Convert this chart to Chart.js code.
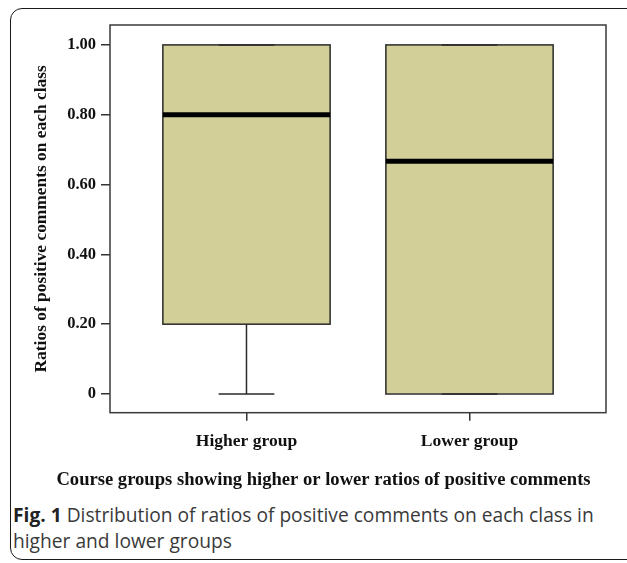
<!DOCTYPE html>
<html>
<head>
<meta charset="utf-8">
<title>Ratios of positive comments by course group</title>
<script src="https://cdn.jsdelivr.net/npm/chart.js@4/dist/chart.umd.min.js"></script>
<style>
  html, body { margin: 0; padding: 0; background: #fff; overflow: hidden; }
  body { width: 627px; height: 563px; position: relative; }
  .frame {
    position: absolute; left: 10px; top: 8px; width: 650px; height: 552px;
    box-sizing: border-box; border: 1.5px solid #1a1a1a; border-radius: 12px;
  }
  .plot { position: absolute; left: 0; top: 0; width: 627px; height: 500px; }
  .caption {
    position: absolute; left: 13px; top: 502px; width: 610px;
    font-family: "Open Sans", "Noto Sans", sans-serif; font-size: 19.2px;
    line-height: 26px; color: #3a3a3a;
  }
  .caption b { font-weight: 700; color: #222; }
</style>
</head>
<body>
<div class="frame"></div>
<div class="plot"><canvas id="chart" width="627" height="500"></canvas></div>
<div class="caption"><b>Fig. 1</b> Distribution of ratios of positive comments on each class in higher and lower groups</div>
<script>
// Five-number summaries per course group
const categories = ['Higher group', 'Lower group'];
const minValues = [0, 0];
const q1Values = [0.2, 0];
const medianValues = [0.8, 0.667];
const q3Values = [1, 1];
const maxValues = [1, 1];

// Value axis ticks
const yTickValues = [0, 0.2, 0.4, 0.6, 0.8, 1];
const yTickLabels = ['0', '0.20', '0.40', '0.60', '0.80', '1.00'];

const axisTitle = 'Ratios of positive comments on each class';
const groupTitle = 'Course groups showing higher or lower ratios of positive comments';

const serifBold = (size) => ({ family: '"Liberation Serif", "Times New Roman", serif', size: size, weight: 'bold' });

// Floating bars span the interquartile range
const boxData = categories.map((c, i) => ({ x: i, y: [q1Values[i], q3Values[i]] }));

// Box outlines, whiskers, caps and medians drawn through the chart scales
const boxPlotExtras = {
  id: 'boxPlotExtras',
  afterDatasetsDraw(chart) {
    const ctx = chart.ctx;
    const xs = chart.scales.x, ys = chart.scales.y;
    const meta = chart.getDatasetMeta(0);
    const line = (x1, y1, x2, y2) => { ctx.beginPath(); ctx.moveTo(x1, y1); ctx.lineTo(x2, y2); ctx.stroke(); };
    categories.forEach((c, i) => {
      const bar = meta.data[i];
      const cx = xs.getPixelForValue(i);
      const half = bar.width / 2;
      const capHalf = bar.width / 6;
      const yMin = ys.getPixelForValue(minValues[i]);
      const yQ1 = ys.getPixelForValue(q1Values[i]);
      const yMed = ys.getPixelForValue(medianValues[i]);
      const yQ3 = ys.getPixelForValue(q3Values[i]);
      const yMax = ys.getPixelForValue(maxValues[i]);
      ctx.save();
      ctx.strokeStyle = '#2a2a2a';
      ctx.lineWidth = 1.5;
      ctx.strokeRect(cx - half, yQ3, 2 * half, yQ1 - yQ3);
      line(cx, yQ1, cx, yMin);
      line(cx - capHalf, yMin, cx + capHalf, yMin);
      line(cx, yQ3, cx, yMax);
      line(cx - capHalf, yMax, cx + capHalf, yMax);
      ctx.strokeStyle = '#000';
      ctx.lineWidth = 5;
      line(cx - half, yMed, cx + half, yMed);
      ctx.restore();
    });
  }
};

// Rectangle around the plotting area
const plotFrame = {
  id: 'plotFrame',
  afterDraw(chart) {
    const { left, top, width, height } = chart.chartArea;
    const ctx = chart.ctx;
    ctx.save();
    ctx.strokeStyle = '#3a3a3a';
    ctx.lineWidth = 1.5;
    ctx.strokeRect(left, top, width, height);
    ctx.restore();
  }
};

new Chart(document.getElementById('chart'), {
  type: 'bar',
  data: {
    datasets: [{
      data: boxData,
      backgroundColor: '#d3cf99',
      borderWidth: 0,
      borderSkipped: false,
      barPercentage: 0.75,
      categoryPercentage: 1
    }]
  },
  options: {
    responsive: false,
    devicePixelRatio: 1,
    animation: false,
    layout: { padding: { left: 41, right: 21, top: 25, bottom: 0 } },
    plugins: {
      legend: { display: false },
      tooltip: { enabled: false },
      title: {
        display: true,
        position: 'bottom',
        text: groupTitle,
        color: '#111',
        font: serifBold(18.6),
        padding: { top: 0, bottom: 9 }
      }
    },
    scales: {
      x: {
        type: 'linear',
        offset: false,
        min: -0.612,
        max: 1.612,
        afterBuildTicks(scale) { scale.ticks = categories.map((c, i) => ({ value: i })); },
        afterFit(scale) { scale.height = 56; },
        ticks: {
          callback: (v) => categories[v],
          color: '#111',
          font: serifBold(17.5),
          padding: 10,
          maxRotation: 0
        },
        grid: { offset: false, drawOnChartArea: false, drawTicks: true, tickLength: 8, color: '#333', lineWidth: 1.5 },
        border: { display: false }
      },
      y: {
        min: -0.0535,
        max: 1.057,
        afterBuildTicks(scale) { scale.ticks = yTickValues.map(v => ({ value: v })); },
        afterFit(scale) { scale.width = 69; },
        ticks: {
          callback: (v, idx) => yTickLabels[idx],
          color: '#111',
          font: serifBold(16.5),
          padding: 5
        },
        grid: { drawOnChartArea: false, drawTicks: true, tickLength: 9, color: '#333', lineWidth: 1.5 },
        border: { display: false },
        title: {
          display: true,
          text: axisTitle,
          color: '#111',
          font: serifBold(17.4),
          padding: { top: -10, bottom: 0 }
        }
      }
    }
  },
  plugins: [boxPlotExtras, plotFrame]
});
</script>
</body>
</html>
